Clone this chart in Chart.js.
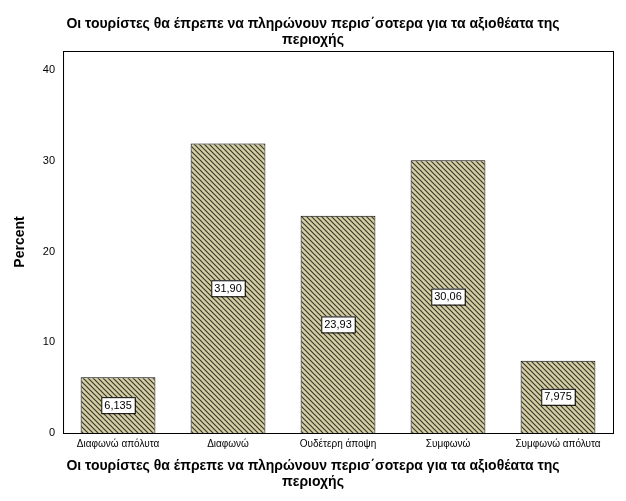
<!DOCTYPE html>
<html><head><meta charset="utf-8">
<script src="https://cdn.jsdelivr.net/npm/chart.js@4/dist/chart.umd.min.js"></script>
<style>
body{margin:0;background:#fff;font-family:Arial,"Liberation Sans",sans-serif}
#wrap{position:absolute;left:0;top:0;width:626px;height:501px}
.t{position:absolute;left:0;width:626px;text-align:center;font-weight:bold;font-size:14px;line-height:16px;color:#000}
</style></head><body>
<div id="wrap">
<div class="t" style="top:15px">Οι τουρίστες θα έπρεπε να πληρώνουν περισ΄σοτερα για τα αξιοθέατα της<br>περιοχής</div>
<canvas id="c" width="626" height="501"></canvas>
<div class="t" style="top:457px">Οι τουρίστες θα έπρεπε να πληρώνουν περισ΄σοτερα για τα αξιοθέατα της<br>περιοχής</div>
</div>
<script>
// ── data ──
const categories = ['Διαφωνώ απόλυτα', 'Διαφωνώ', 'Ουδέτερη άποψη', 'Συμφωνώ', 'Συμφωνώ απόλυτα'];
const percents = [6.135, 31.90, 23.93, 30.06, 7.975];
const valueLabels = ['6,135', '31,90', '23,93', '30,06', '7,975'];
const yTicks = [0, 10, 20, 30, 40];

// hatch fill
function hatch() {
    const p = document.createElement('canvas');
    p.width = 5; p.height = 5;
    const g = p.getContext('2d');
    g.fillStyle = '#d6cfa6'; g.fillRect(0, 0, 5, 5);
    g.strokeStyle = '#3a3a2a'; g.lineWidth = 1.2;
    g.beginPath(); g.moveTo(-1, -1); g.lineTo(6, 6); g.moveTo(-1, 4); g.lineTo(1, 6); g.moveTo(4, -1); g.lineTo(6, 1); g.stroke();
    return g.createPattern(p, 'repeat');
}

const boxLabels = {
    id: 'boxLabels',
    afterDatasetsDraw(chart) {
        const ctx = chart.ctx;
        chart.getDatasetMeta(0).data.forEach((bar, i) => {
            const y = (bar.y + bar.base) / 2;
            ctx.save();
            ctx.font = '11px Arial, "Liberation Sans"';
            const w = ctx.measureText(valueLabels[i]).width + 6;
            ctx.fillStyle = '#fff';
            ctx.fillRect(bar.x - w / 2, y - 8, w, 16);
            ctx.strokeStyle = '#000'; ctx.lineWidth = 1;
            ctx.strokeRect(bar.x - w / 2 + 0.5, y - 7.5, w, 16);
            ctx.fillStyle = '#000'; ctx.textAlign = 'center'; ctx.textBaseline = 'middle';
            ctx.fillText(valueLabels[i], bar.x, y + 0.5);
            ctx.restore();
        });
    }
};
const frame = {
    id: 'frame',
    afterDraw(chart) {
        const a = chart.chartArea, ctx = chart.ctx;
        ctx.save(); ctx.strokeStyle = '#000'; ctx.lineWidth = 1;
        ctx.strokeRect(a.left + 0.5, a.top + 0.5, a.right - a.left, a.bottom - a.top);
        ctx.restore();
    }
};

new Chart(document.getElementById('c'), {
    type: 'bar',
    data: {
        labels: categories,
        datasets: [{
            data: percents,
            backgroundColor: hatch(),
            borderColor: '#000',
            borderWidth: 1,
            barPercentage: 0.68,
            categoryPercentage: 1
        }]
    },
    options: {
        responsive: false,
        animation: false,
        layout: { padding: { top: 51, right: 13, bottom: 50, left: 12 } },
        plugins: { legend: { display: false }, tooltip: { enabled: false } },
        scales: {
            x: {
                grid: { display: false, drawTicks: true, tickLength: 4, tickColor: '#000' },
                border: { color: '#000' },
                ticks: { color: '#000', font: { size: 10 }, maxRotation: 0, padding: 1 }
            },
            y: {
                min: 0, max: 42.1,
                afterBuildTicks: ax => { ax.ticks = yTicks.map(v => ({ value: v })); },
                grid: { display: false, drawTicks: true, tickLength: 6, tickColor: '#000' },
                border: { color: '#000' },
                title: { display: true, text: 'Percent', color: '#000', font: { size: 14, weight: 'bold' }, padding: { top: 0, bottom: 12 } },
                ticks: { color: '#000', font: { size: 11 }, padding: 2 }
            }
        }
    },
    plugins: [boxLabels, frame]
});
</script>
</body></html>
